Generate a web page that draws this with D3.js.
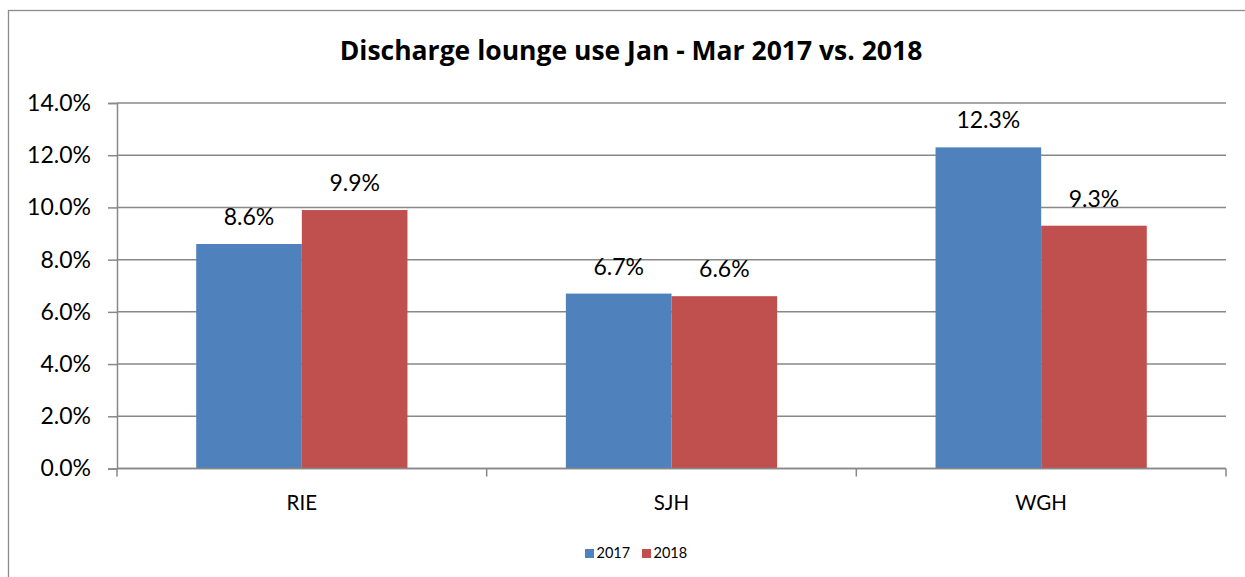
<!DOCTYPE html>
<html>
<head>
<meta charset="utf-8">
<script src="https://cdn.jsdelivr.net/npm/d3@7"></script>
<style>
  html, body { margin: 0; padding: 0; background: #fff; }
  svg { display: block; font-family: Lato, "Open Sans", "Liberation Sans", sans-serif; }
</style>
</head>
<body>
<svg id="chart" width="1245" height="577"></svg>
<script>
// Discharge lounge usage by hospital site, Jan - Mar
const categories = ["RIE", "SJH", "WGH"];
const seriesNames = ["2017", "2018"];
const values2017 = [8.6, 6.7, 12.3];
const values2018 = [9.9, 6.6, 9.3];
const yTicks = [0, 2, 4, 6, 8, 10, 12, 14];
const colors = ["#4F81BD", "#C0504D"];

const series = [values2017, values2018];

const svg = d3.select("#chart");
const W = 1245, H = 577;
const plot = { left: 117, right: 1226, top: 103, bottom: 468.5 };

// outer chart frame
svg.append("rect")
  .attr("x", 8.5).attr("y", 10.5)
  .attr("width", W).attr("height", H)
  .attr("fill", "none").attr("stroke", "#8c8c8c").attr("stroke-width", 1.3);

// title
svg.append("text")
  .attr("x", 631).attr("y", 60)
  .attr("text-anchor", "middle")
  .attr("font-family", "'Open Sans', Lato, sans-serif")
  .attr("font-weight", "bold")
  .attr("font-size", 26.5)
  .attr("fill", "#000")
  .text("Discharge lounge use Jan - Mar 2017 vs. 2018");

const y = d3.scaleLinear().domain([0, 14]).range([plot.bottom, plot.top]);
const x0 = d3.scaleBand().domain(categories).range([plot.left, plot.right]).padding(0);
const gap = x0.bandwidth() * 0.4285;
const x1 = d3.scaleBand().domain(seriesNames).range([gap / 2, x0.bandwidth() - gap / 2]).padding(0);

// horizontal gridlines
svg.append("g")
  .selectAll("line")
  .data(yTicks)
  .join("line")
  .attr("x1", plot.left).attr("x2", plot.right)
  .attr("y1", d => y(d)).attr("y2", d => y(d))
  .attr("stroke", "#888").attr("stroke-width", 1.5);

// y axis
const yAxis = svg.append("g")
  .attr("transform", `translate(${plot.left},0)`)
  .call(d3.axisLeft(y).tickValues(yTicks).tickSize(9).tickPadding(17)
    .tickFormat(d => d.toFixed(1) + "%"));
yAxis.select(".domain").attr("stroke", "#888").attr("stroke-width", 1.5);
yAxis.selectAll(".tick line").attr("stroke", "#888").attr("stroke-width", 1.5);
yAxis.selectAll(".tick text")
  .attr("font-size", 23).attr("fill", "#000")
  .attr("font-family", "Lato, 'Open Sans', sans-serif");

// bars
const groups = svg.append("g")
  .selectAll("g")
  .data(categories)
  .join("g")
  .attr("transform", d => `translate(${x0(d)},0)`);

groups.selectAll("rect")
  .data((c, i) => seriesNames.map((s, j) => ({ s, v: series[j][i], j })))
  .join("rect")
  .attr("x", d => x1(d.s))
  .attr("width", x1.bandwidth())
  .attr("y", d => y(d.v))
  .attr("height", d => y(0) - y(d.v))
  .attr("fill", d => colors[d.j]);

// value labels
groups.selectAll("text")
  .data((c, i) => seriesNames.map((s, j) => ({ s, v: series[j][i], j })))
  .join("text")
  .attr("x", d => x1(d.s) + x1.bandwidth() / 2)
  .attr("y", d => y(d.v) - 19)
  .attr("text-anchor", "middle")
  .attr("font-size", 23)
  .attr("fill", "#000")
  .text(d => d.v.toFixed(1) + "%");

// x axis line on top of bars
const xAxis = svg.append("g")
  .attr("transform", `translate(0,${plot.bottom})`);
xAxis.append("line")
  .attr("x1", plot.left).attr("x2", plot.right)
  .attr("stroke", "#888").attr("stroke-width", 1.5);
const boundaries = categories.map(c => x0(c)).concat([plot.right]);
xAxis.selectAll("line.tick")
  .data(boundaries)
  .join("line")
  .attr("class", "tick")
  .attr("x1", d => d).attr("x2", d => d)
  .attr("y1", 0).attr("y2", 8)
  .attr("stroke", "#888").attr("stroke-width", 1.5);
xAxis.selectAll("text")
  .data(categories)
  .join("text")
  .attr("x", d => x0(d) + x0.bandwidth() / 2)
  .attr("y", 41.5)
  .attr("text-anchor", "middle")
  .attr("font-size", 20.5)
  .attr("fill", "#000")
  .text(d => d);

// legend
const legendItems = [
  { name: seriesNames[0], color: colors[0], x: 585 },
  { name: seriesNames[1], color: colors[1], x: 642 }
];
const legend = svg.append("g");
legend.selectAll("rect")
  .data(legendItems)
  .join("rect")
  .attr("x", d => d.x).attr("y", 549)
  .attr("width", 9).attr("height", 9)
  .attr("fill", d => d.color);
legend.selectAll("text")
  .data(legendItems)
  .join("text")
  .attr("x", d => d.x + 11.5).attr("y", 558)
  .attr("font-size", 14.5)
  .attr("fill", "#000")
  .text(d => d.name);
</script>
</body>
</html>
